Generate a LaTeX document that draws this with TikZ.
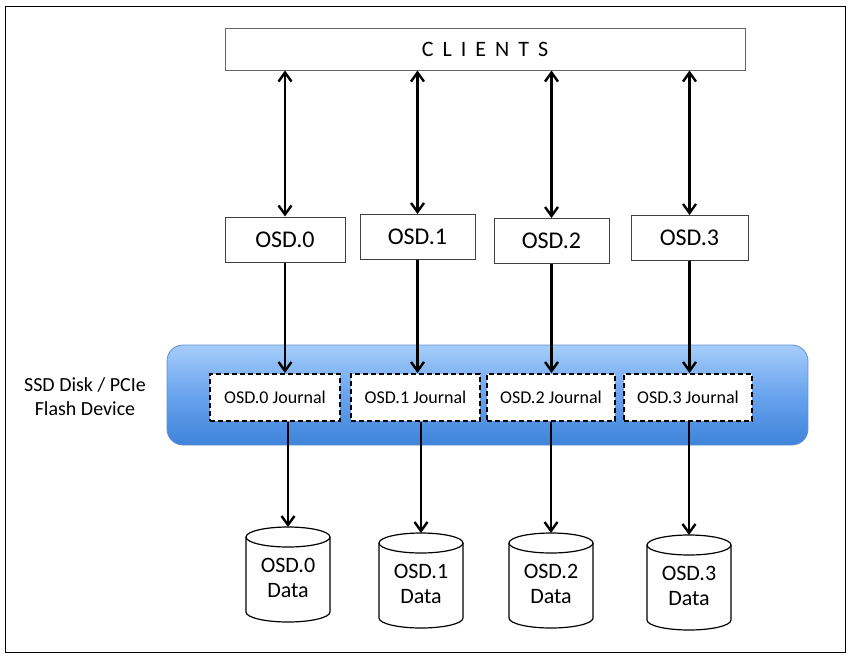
\documentclass[tikz,border=0pt]{standalone}
\usepackage{fontspec}
\setmainfont{Carlito}
\usetikzlibrary{arrows.meta,calc}
\definecolor{bandtop}{RGB}{165,205,250}
\definecolor{bandmid}{RGB}{105,163,238}
\definecolor{bandbot}{RGB}{62,132,218}
\definecolor{bandedge}{RGB}{95,145,210}
\begin{document}
\begin{tikzpicture}[x=1pt,y=-1pt,
  tipb/.tip={Straight Barb[length=9pt,width=13pt,line width=2.4pt]},
  arr/.style={line width=2.7pt,-tipb},
  darr/.style={line width=2.7pt,tipb-tipb},
  osdbox/.style={draw=black!75,line width=1pt,fill=white,minimum height=45pt,inner sep=0pt,font=\fontsize{24}{28}\selectfont},
  jbox/.style={draw=black,line width=2pt,dash pattern=on 5pt off 3pt,fill=white,minimum height=47pt,inner sep=0pt,font=\fontsize{18}{20}\selectfont},
  datatext/.style={align=center,inner sep=0pt,font=\fontsize{22}{25}\selectfont},
  cylline/.style={draw=black,line width=1.2pt,fill=white}
]
\useasboundingbox (0,0) rectangle (850,656);
\draw[line width=1pt] (5,6) rectangle (845,652);

% clients
\node[draw=black!60,line width=1pt,fill=white,minimum width=520pt,minimum height=42pt,inner sep=0pt,font=\fontsize{22}{26}\selectfont] (clients) at (485,49)
  {C\hspace{9pt}L\hspace{9pt}I\hspace{9pt}E\hspace{9pt}N\hspace{9pt}T\hspace{9pt}S};

% OSD boxes
\node[osdbox,minimum width=120pt] (osd0) at (285,239.5) {OSD.0};
\node[osdbox,minimum width=115pt] (osd1) at (417.5,237) {OSD.1};
\node[osdbox,minimum width=115pt] (osd2) at (551.5,241) {OSD.2};
\node[osdbox,minimum width=117pt] (osd3) at (689.5,238) {OSD.3};

% SSD band
\node[rounded corners=16pt,draw=bandedge,line width=0.8pt,top color=bandtop,bottom color=bandbot,middle color=bandmid,minimum width=641pt,minimum height=100pt] (ssd) at (487.5,395) {};
\node[align=center,inner sep=0pt,font=\fontsize{20}{24}\selectfont] (ssdlabel) at (85,397) {SSD Disk / PCIe\\Flash Device};

% journals
\node[jbox,minimum width=130pt] (j0) at (275,397.5) {OSD.0 Journal};
\node[jbox,minimum width=129pt] (j1) at (415.5,397.5) {OSD.1 Journal};
\node[jbox,minimum width=128pt] (j2) at (551,397.5) {OSD.2 Journal};
\node[jbox,minimum width=128pt] (j3) at (688,397.5) {OSD.3 Journal};

% data cylinders
\foreach \cx/\ty/\i in {288/527/0, 421/533/1, 551/533/2, 689/535/3} {
  \path[cylline] (\cx-42,\ty+10) -- (\cx-42,\ty+85) arc(180:0:42 and 10) -- (\cx+42,\ty+10) arc(0:-180:42 and 10) -- cycle;
  \draw[line width=1.2pt] (\cx-42,\ty+10) arc(180:0:42 and 10);
  \coordinate (dt\i) at (\cx,\ty);
  \node[datatext] (d\i) at (\cx,\ty+51) {OSD.\i\\Data};
}

% connectors
\foreach \i in {0,1,2,3} {
  \draw[darr] (osd\i.north) -- (osd\i.north |- clients.south);
  \draw[arr] (osd\i.south) -- (osd\i.south |- j\i.north);
  \draw[arr] (j\i.south -| dt\i) -- (dt\i);
}
\end{tikzpicture}
\end{document}
